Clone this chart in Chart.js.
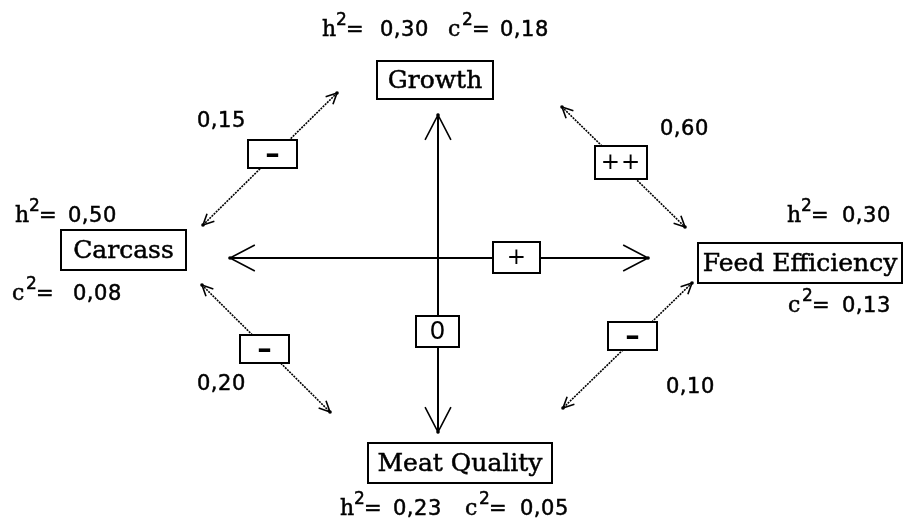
<!DOCTYPE html>
<html>
<head>
<meta charset="utf-8">
<script src="https://cdn.jsdelivr.net/npm/chart.js@4.4.0/dist/chart.umd.min.js"></script>
<style>
  html, body { margin: 0; padding: 0; background: #fff; }
  #wrap { width: 904px; height: 521px; position: relative; }
</style>
</head>
<body>
<div id="wrap"><canvas id="chart"></canvas></div>
<script>
// traits with heritability (h2) and common environment (c2)
const traits = ['Growth', 'Carcass', 'Feed Efficiency', 'Meat Quality'];
const heritability = [0.30, 0.50, 0.30, 0.23];
const commonEnv = [0.18, 0.08, 0.13, 0.05];

// pairs of traits (index into traits), their correlation and the sign in the box
const pairs = [[0, 1], [0, 2], [1, 3], [2, 3], [1, 2], [0, 3]];
const correlations = [0.15, 0.60, 0.20, 0.10, null, null];
const signs = ['–', '++', '–', '–', '+', '0'];

// layout, in pixels of the 904 x 521 frame (y grows downwards)
const nodeBoxes = [[377, 61, 493, 99], [61, 230, 186, 270], [698, 243, 902, 283], [368, 443, 552, 483]];
const arrowEnds = [
  [[337, 93], [203, 225]],
  [[562, 107], [685, 227]],
  [[202, 285], [330, 412]],
  [[692, 283], [563, 408]],
  [[230, 258], [648, 258]],
  [[438, 115], [438, 432]]
];
const signBoxes = [[248, 140, 297, 168], [595, 146, 647, 179], [240, 335, 289, 363],
                   [608, 322, 657, 350], [493, 242, 540, 273], [416, 316, 459, 347]];
const corrLabelPos = [[197, 127], [660, 135], [197, 390], [666, 393]];
// [trait, kind, x of symbol, x of value, baseline]
const statLabelPos = [
  [0, 'h', 322, 380, 36], [0, 'c', 448, 500, 36],
  [1, 'h', 15, 68, 222], [1, 'c', 12, 73, 300],
  [2, 'h', 787, 842, 222], [2, 'c', 788, 842, 312],
  [3, 'h', 340, 393, 515], [3, 'c', 465, 520, 515]
];

const fmt = v => v.toFixed(2).replace('.', ',');

const datasets = pairs.map((p, i) => {
  const main = correlations[i] === null;
  return {
    label: traits[p[0]] + ' / ' + traits[p[1]],
    data: arrowEnds[i].map(e => ({ x: e[0], y: e[1] })),
    showLine: true,
    borderColor: '#000',
    borderWidth: main ? 2 : 1.6,
    borderDash: main ? [] : [2, 1],
    pointRadius: 0,
    fill: false
  };
});

function head(ctx, tx, ty, fx, fy, big) {
  const ang = Math.atan2(ty - fy, tx - fx);
  const len = big ? 28 : 12;
  const spread = big ? 0.48 : 0.45;
  ctx.save();
  ctx.strokeStyle = '#000';
  ctx.lineWidth = big ? 1.6 : 1.6;
  ctx.beginPath();
  ctx.moveTo(tx - len * Math.cos(ang - spread), ty - len * Math.sin(ang - spread));
  ctx.lineTo(tx, ty);
  ctx.lineTo(tx - len * Math.cos(ang + spread), ty - len * Math.sin(ang + spread));
  ctx.stroke();
  ctx.beginPath();
  ctx.arc(tx, ty, 1.8, 0, Math.PI * 2);
  ctx.fillStyle = '#000';
  ctx.fill();
  ctx.restore();
}

function box(ctx, x1, y1, x2, y2) {
  ctx.fillStyle = '#fff';
  ctx.fillRect(x1, y1, x2 - x1, y2 - y1);
  ctx.strokeStyle = '#000';
  ctx.lineWidth = 2;
  ctx.strokeRect(x1, y1, x2 - x1, y2 - y1);
}

// text with a hairline outline so it reads as heavy as the bitmap font
function heavyText(ctx, s, x, y) {
  ctx.fillText(s, x, y);
  ctx.lineWidth = 0.5;
  ctx.strokeStyle = '#000';
  ctx.strokeText(s, x, y);
}

const diagramPlugin = {
  id: 'diagram',
  afterDatasetsDraw(chart) {
    const ctx = chart.ctx;
    const xs = chart.scales.x, ys = chart.scales.y;
    const px = v => xs.getPixelForValue(v);
    const py = v => ys.getPixelForValue(v);

    // arrow heads on both ends of every line
    chart.data.datasets.forEach((ds, i) => {
      const pts = chart.getDatasetMeta(i).data;
      const a = pts[0], b = pts[1];
      const big = ds.borderDash.length === 0;
      head(ctx, a.x, a.y, b.x, b.y, big);
      head(ctx, b.x, b.y, a.x, a.y, big);
    });

    ctx.save();
    ctx.textBaseline = 'middle';
    ctx.textAlign = 'center';

    // sign boxes
    signs.forEach((s, i) => {
      const [x1, y1, x2, y2] = signBoxes[i];
      box(ctx, px(x1), py(y1), px(x2), py(y2));
      ctx.fillStyle = '#000';
      ctx.font = s === '0' ? '25px "DejaVu Sans"' : (s === '–' ? 'bold 29px "DejaVu Sans"' : '23px "DejaVu Sans"');
      ctx.letterSpacing = s === '++' ? '1px' : '0px';
      ctx.fillText(s, px((x1 + x2) / 2), py((y1 + y2) / 2) + 1);
    });

    // trait boxes
    ctx.letterSpacing = '0px';
    ctx.font = '25px "DejaVu Serif"';
    traits.forEach((t, i) => {
      const [x1, y1, x2, y2] = nodeBoxes[i];
      box(ctx, px(x1), py(y1), px(x2), py(y2));
      ctx.fillStyle = '#000';
      heavyText(ctx, t, px((x1 + x2) / 2), py((y1 + y2) / 2) + 1);
    });

    ctx.textAlign = 'left';
    ctx.textBaseline = 'alphabetic';

    // correlation values
    ctx.font = '21px "DejaVu Sans"';
    ctx.letterSpacing = '0.5px';
    correlations.forEach((c, i) => {
      if (c === null) return;
      heavyText(ctx, fmt(c), px(corrLabelPos[i][0]), py(corrLabelPos[i][1]));
    });

    // h2 and c2 labels
    statLabelPos.forEach(([t, kind, sx, vx, base]) => {
      const v = kind === 'h' ? heritability[t] : commonEnv[t];
      const x = px(sx), y = py(base);
      ctx.letterSpacing = '0px';
      ctx.font = '22px "DejaVu Serif"';
      heavyText(ctx, kind, x, y);
      ctx.font = '17px "DejaVu Sans"';
      heavyText(ctx, '2', x + 14, y - 11);
      ctx.font = '21px "DejaVu Sans"';
      heavyText(ctx, '=', x + 24, y);
      ctx.letterSpacing = '0.5px';
      heavyText(ctx, fmt(v), px(vx), y);
    });
    ctx.restore();
  }
};

new Chart(document.getElementById('chart'), {
  type: 'scatter',
  data: { datasets: datasets },
  options: {
    responsive: true,
    maintainAspectRatio: false,
    animation: false,
    events: [],
    layout: { padding: 0 },
    plugins: { legend: { display: false }, tooltip: { enabled: false } },
    scales: {
      x: { type: 'linear', min: 0, max: 904, display: false },
      y: { type: 'linear', min: 0, max: 521, reverse: true, display: false }
    }
  },
  plugins: [diagramPlugin]
});
</script>
</body>
</html>
